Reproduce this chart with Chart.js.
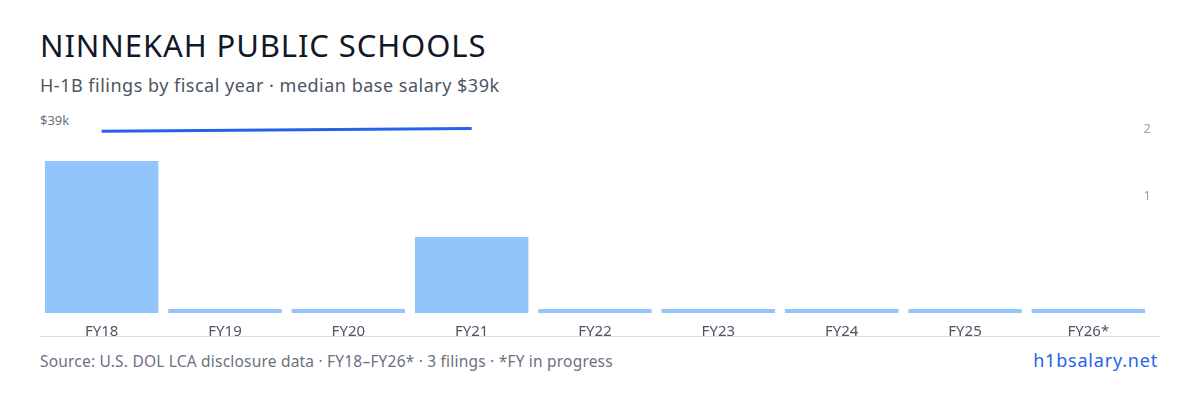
<!DOCTYPE html>
<html><head><meta charset="utf-8">
<script src="https://cdn.jsdelivr.net/npm/chart.js@4"></script>
<style>
body{margin:0;width:1200px;height:400px;background:#fff;font-family:"Noto Sans",sans-serif;position:relative;overflow:hidden}
#t{position:absolute;left:40px;top:24px;font-size:31px;color:#111827;letter-spacing:0.9px}
#s{position:absolute;left:40px;top:73px;font-size:18px;color:#4b5563;letter-spacing:0.5px}
#sal{position:absolute;left:40px;top:111px;font-size:13px;color:#6b7280}
#wrap{position:absolute;left:40px;top:112px;width:1120px;height:231px}
#base{position:absolute;left:40px;top:336px;width:1120px;height:1px;background:#d8dde5}
#src{position:absolute;left:40px;top:350px;font-size:15.5px;color:#6b7280;letter-spacing:0.2px}
#site{position:absolute;right:42px;top:348px;font-size:18px;color:#2563eb;letter-spacing:0.8px}
</style></head><body>
<div id="t">NINNEKAH PUBLIC SCHOOLS</div>
<div id="s">H-1B filings by fiscal year · median base salary $39k</div>
<div id="sal">$39k</div>
<div id="wrap"><canvas id="c"></canvas></div>
<div id="base"></div>
<div id="src">Source: U.S. DOL LCA disclosure data · FY18–FY26* · 3 filings · *FY in progress</div>
<div id="site">h1bsalary.net</div>
<script>
const categories=["FY18","FY19","FY20","FY21","FY22","FY23","FY24","FY25","FY26*"];
const filings=[2,0,0,1,0,0,0,0,0];
const salaryK=[37.8,null,null,38.4,null,null,null,null,null];
const rightTickValues=[2.42,1.53];
const rightTickLabels=["2","1"];
new Chart(document.getElementById('c'),{
 data:{labels:categories,datasets:[
  {type:'line',data:salaryK,yAxisID:'ys',borderColor:'#2563eb',borderWidth:3,pointRadius:0,spanGaps:true,order:0},
  {type:'bar',data:filings,yAxisID:'y',backgroundColor:'#93c5fd',minBarLength:4,barPercentage:0.92,categoryPercentage:1,order:1}
 ]},
 options:{responsive:true,maintainAspectRatio:false,animation:false,
  layout:{padding:0},
  plugins:{legend:{display:false},tooltip:{enabled:false}},
  scales:{
   x:{grid:{display:false},border:{display:false},ticks:{color:'#4b5563',font:{family:'Noto Sans',size:15},padding:2,maxRotation:0}},
   y:{position:'right',min:0,max:2.53,grid:{display:false},border:{display:false},
      afterBuildTicks:a=>{a.ticks=rightTickValues.map(v=>({value:v}));},
      ticks:{mirror:true,color:'#9ca3af',font:{family:'Noto Sans',size:13},padding:1,callback:(v,i)=>rightTickLabels[i]}},
   ys:{display:false,min:0,max:40}
  }}
});
</script></body></html>
